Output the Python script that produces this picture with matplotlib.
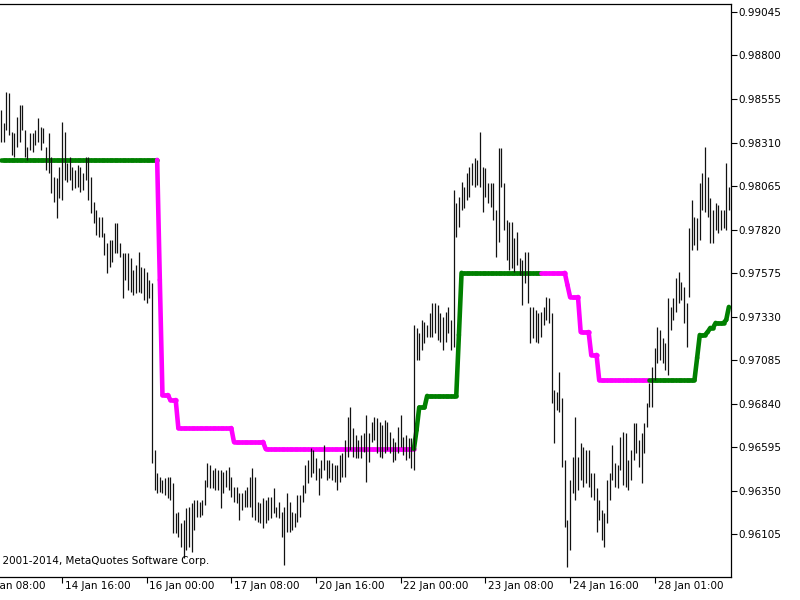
import matplotlib
matplotlib.use("Agg")
import matplotlib.pyplot as plt
import matplotlib.transforms as mtransforms
from matplotlib.collections import LineCollection
import numpy as np

# H1 bars, highs and lows (left to right)
highs = [
    0.98494, 0.98420, 0.98595, 0.98589, 0.98370, 0.98364, 0.98454, 0.98522, 0.98522, 0.98381,
    0.98285, 0.98364, 0.98364, 0.98381, 0.98448, 0.98398, 0.98392, 0.98285, 0.98364, 0.98229,
    0.98116, 0.98110, 0.98172, 0.98426, 0.98370, 0.98195, 0.98229, 0.98172, 0.98156, 0.98184,
    0.98172, 0.98139, 0.98229, 0.98229, 0.98116, 0.97975, 0.97930, 0.97891, 0.97891, 0.97801,
    0.97744, 0.97761, 0.97761, 0.97857, 0.97857, 0.97744, 0.97688,
    0.97688, 0.97688, 0.97660, 0.97593, 0.97621, 0.97694, 0.97610, 0.97604, 0.97582, 0.97537,
    0.97520, 0.96580, 0.96450, 0.96428, 0.96411, 0.96422, 0.96428, 0.96428, 0.96394, 0.96225,
    0.96231, 0.96169, 0.96186, 0.96253, 0.96259, 0.96281, 0.96298, 0.96298, 0.96287, 0.96298,
    0.96411, 0.96506, 0.96495, 0.96467, 0.96478, 0.96467, 0.96467, 0.96456, 0.96467, 0.96484,
    0.96428, 0.96371, 0.96371, 0.96337, 0.96337, 0.96354, 0.96371,
    0.96427, 0.96478, 0.96427, 0.96286, 0.96281, 0.96309, 0.96298, 0.96315, 0.96315, 0.96365,
    0.96259, 0.96287, 0.96231, 0.96259, 0.96337, 0.96287, 0.96231, 0.96225, 0.96326, 0.96326,
    0.96382, 0.96495, 0.96523, 0.96591, 0.96580, 0.96535, 0.96478, 0.96523, 0.96607, 0.96523,
    0.96523, 0.96506, 0.96495, 0.96495, 0.96552, 0.96563, 0.96636, 0.96765, 0.96822, 0.96703,
    0.96664, 0.96636, 0.96664, 0.96675, 0.96777, 0.96675, 0.96737, 0.96765,
    0.96760, 0.96737, 0.96720, 0.96748, 0.96737, 0.96681, 0.96647, 0.96624, 0.96709, 0.96777,
    0.96653, 0.96664, 0.96647, 0.96647, 0.97283, 0.97266, 0.97238, 0.97311, 0.97300, 0.97283,
    0.97350, 0.97407, 0.97407, 0.97396, 0.97350, 0.97328, 0.97356, 0.97384, 0.97311, 0.98043,
    0.97970, 0.98004, 0.98088, 0.98060, 0.98139, 0.98172, 0.98195, 0.98223, 0.98212, 0.98370,
    0.98172, 0.98167, 0.98082, 0.98082, 0.98082, 0.97930, 0.98280, 0.98280,
    0.98082, 0.97874, 0.97863, 0.97863, 0.97773, 0.97807, 0.97660, 0.97649, 0.97694, 0.97694,
    0.97384, 0.97384, 0.97368, 0.97350, 0.97356, 0.97384, 0.97441, 0.97435, 0.97350, 0.96917,
    0.96906, 0.97018, 0.96872, 0.96523, 0.96186, 0.96411, 0.96540, 0.96765, 0.96540, 0.96619,
    0.96596, 0.96580, 0.96580, 0.96450, 0.96450, 0.96365, 0.96298, 0.96242, 0.96225, 0.96411,
    0.96450, 0.96607, 0.96506, 0.96495, 0.96652, 0.96680,
    0.96675, 0.96523, 0.96580, 0.96731, 0.96731, 0.96636, 0.96675, 0.96731, 0.96844, 0.96957,
    0.97047, 0.97153, 0.97271, 0.97255, 0.97210, 0.97181, 0.97435, 0.97384, 0.97435, 0.97548,
    0.97582, 0.97525, 0.97497, 0.97407, 0.97829, 0.97987, 0.97891, 0.97885, 0.98082, 0.98139,
    0.98285, 0.98116, 0.97998, 0.97930, 0.97970, 0.97958, 0.97930, 0.97930, 0.98195, 0.98060,
]
lows = [
    0.98313, 0.98313, 0.98381, 0.98353, 0.98240, 0.98229, 0.98285, 0.98313, 0.98381, 0.98229,
    0.98212, 0.98268, 0.98257, 0.98296, 0.98313, 0.98268, 0.98308, 0.98156, 0.98139, 0.98026,
    0.97975, 0.97885, 0.97998, 0.97987, 0.98099, 0.98088, 0.98099, 0.98043, 0.98054, 0.98060,
    0.98032, 0.98043, 0.98099, 0.97987, 0.97913, 0.97857, 0.97789, 0.97778, 0.97778, 0.97677,
    0.97575, 0.97609, 0.97638, 0.97688, 0.97688, 0.97666, 0.97435,
    0.97536, 0.97480, 0.97469, 0.97452, 0.97463, 0.97469, 0.97463, 0.97424, 0.97407, 0.97435,
    0.96506, 0.96354, 0.96337, 0.96343, 0.96337, 0.96326, 0.96309, 0.96298, 0.96112, 0.96112,
    0.96090, 0.96033, 0.95971, 0.96017, 0.96033, 0.96005, 0.96129, 0.96202, 0.96202, 0.96214,
    0.96270, 0.96371, 0.96365, 0.96365, 0.96354, 0.96354, 0.96253, 0.96337, 0.96371, 0.96354,
    0.96315, 0.96287, 0.96281, 0.96186, 0.96242, 0.96259, 0.96259,
    0.96258, 0.96202, 0.96186, 0.96174, 0.96169, 0.96140, 0.96169, 0.96186, 0.96197, 0.96225,
    0.96202, 0.96197, 0.96090, 0.95931, 0.96118, 0.96118, 0.96129, 0.96146, 0.96174, 0.96202,
    0.96287, 0.96337, 0.96394, 0.96427, 0.96450, 0.96411, 0.96326, 0.96422, 0.96467, 0.96411,
    0.96422, 0.96411, 0.96400, 0.96354, 0.96400, 0.96427, 0.96427, 0.96540, 0.96580, 0.96540,
    0.96535, 0.96535, 0.96535, 0.96568, 0.96400, 0.96512, 0.96625, 0.96636,
    0.96562, 0.96540, 0.96535, 0.96562, 0.96579, 0.96562, 0.96512, 0.96523, 0.96562, 0.96596,
    0.96551, 0.96523, 0.96535, 0.96478, 0.96467, 0.97085, 0.97085, 0.97142, 0.97181, 0.97215,
    0.97215, 0.97215, 0.97238, 0.97198, 0.97187, 0.97142, 0.97187, 0.97238, 0.97142, 0.97159,
    0.97778, 0.97835, 0.97930, 0.97942, 0.97987, 0.98004, 0.98071, 0.98060, 0.98071, 0.98060,
    0.97919, 0.98004, 0.97970, 0.97947, 0.97874, 0.97666, 0.97750, 0.98060,
    0.97818, 0.97649, 0.97593, 0.97604, 0.97582, 0.97621, 0.97565, 0.97396, 0.97520, 0.97407,
    0.97181, 0.97210, 0.97187, 0.97181, 0.97215, 0.97283, 0.97311, 0.97294, 0.96844, 0.96619,
    0.96805, 0.96793, 0.96484, 0.96146, 0.95921, 0.96017, 0.96337, 0.96298, 0.96354, 0.96411,
    0.96371, 0.96394, 0.96371, 0.96315, 0.96298, 0.96118, 0.96186, 0.96073, 0.96033, 0.96169,
    0.96298, 0.96411, 0.96371, 0.96365, 0.96467, 0.96382,
    0.96371, 0.96354, 0.96411, 0.96523, 0.96562, 0.96484, 0.96394, 0.96562, 0.96709, 0.96822,
    0.96822, 0.96973, 0.97069, 0.97086, 0.97069, 0.97029, 0.97001, 0.97255, 0.97311, 0.97356,
    0.97407, 0.97424, 0.97294, 0.97159, 0.97441, 0.97705, 0.97733, 0.97705, 0.97761, 0.97930,
    0.97919, 0.97891, 0.97744, 0.97744, 0.97818, 0.97801, 0.97818, 0.97829, 0.97818, 0.97930,
]

# indicator line as runs: number of bars, level, trend (1 = up/green, -1 = down/magenta)
ind_counts = [60, 1, 3, 3, 21, 12, 57, 1, 3, 12, 1, 31, 9, 1, 4, 4, 3, 20, 17, 1, 3, 1, 2, 4, 1, 1]
ind_levels = [0.98212, 0.97536, 0.96888, 0.96860, 0.96702, 0.96624, 0.96584, 0.96691, 0.96818,
              0.96883, 0.97226, 0.97576, 0.97576, 0.97508, 0.97440, 0.97243, 0.97114, 0.96972,
              0.96972, 0.97097, 0.97226, 0.97243, 0.97266, 0.97294, 0.97311, 0.97384]
ind_trend = [1, -1, -1, -1, -1, -1, -1, 1, 1, 1, 1, 1, -1, -1, -1, -1, -1, -1,
             1, 1, 1, 1, 1, 1, 1, 1]

price_ticks = [0.96105, 0.96350, 0.96595, 0.96840, 0.97085, 0.97330, 0.97575,
               0.97820, 0.98065, 0.98310, 0.98555, 0.98800, 0.99045]
date_labels = ["13 Jan 08:00", "14 Jan 16:00", "16 Jan 00:00", "17 Jan 08:00", "20 Jan 16:00",
               "22 Jan 00:00", "23 Jan 08:00", "24 Jan 16:00", "28 Jan 01:00"]
date_bars = [-9, 23, 55, 87, 119, 151, 183, 215, 247]

n = len(highs)
x = np.arange(n)
ind = np.repeat(ind_levels, ind_counts)
trend = np.repeat(ind_trend, ind_counts)

fig = plt.figure(figsize=(8, 6), dpi=100)
ax = fig.add_axes([0, 23 / 600, 731 / 800, 573 / 600])

# indicator, coloured by trend
pts = np.column_stack([x, ind])
segs = np.stack([pts[:-1], pts[1:]], axis=1)
cols = np.where(trend[1:] > 0, "#008000", "#ff00ff")
lc = LineCollection(segs, colors=cols, linewidths=3.3, capstyle="round",
                    joinstyle="round", zorder=2)
ax.add_collection(lc)

# price bars
ax.vlines(x, lows, highs, colors="#111111", linewidth=0.9, zorder=3)

ax.set_xlim(-0.38, 275.8)
ax.set_ylim(0.95863, 0.99090)

ax.yaxis.tick_right()
ax.set_yticks(price_ticks)
ax.set_yticklabels([f"{p:.5f}" for p in price_ticks])
ax.tick_params(axis="y", direction="out", length=4, width=0.8, pad=1.5,
               labelsize=7.5, colors="black")

ax.set_xticks(date_bars[1:])
ax.set_xticklabels([])
ax.tick_params(axis="x", direction="out", length=4, width=0.8)

# date labels sit just right of their tick, MT5 style (first one runs off the left edge)
lbl_tr = mtransforms.blended_transform_factory(ax.transData, ax.transAxes) + \
    mtransforms.ScaledTranslation(2 / 72, -3 / 72, fig.dpi_scale_trans)
for b, lab in zip(date_bars, date_labels):
    ax.text(b, 0, lab, transform=lbl_tr, ha="left", va="top", fontsize=7.5, clip_on=False)

ax.spines["left"].set_visible(False)
for s in ("top", "right", "bottom"):
    ax.spines[s].set_linewidth(0.9)
    ax.spines[s].set_color("black")

ax.text(-11 / 731, 16 / 573, "\u00a9 2001-2014, MetaQuotes Software Corp.",
        transform=ax.transAxes, ha="left", va="center", fontsize=7.5, clip_on=False)

fig.savefig("out.png", dpi=100, facecolor="white")
